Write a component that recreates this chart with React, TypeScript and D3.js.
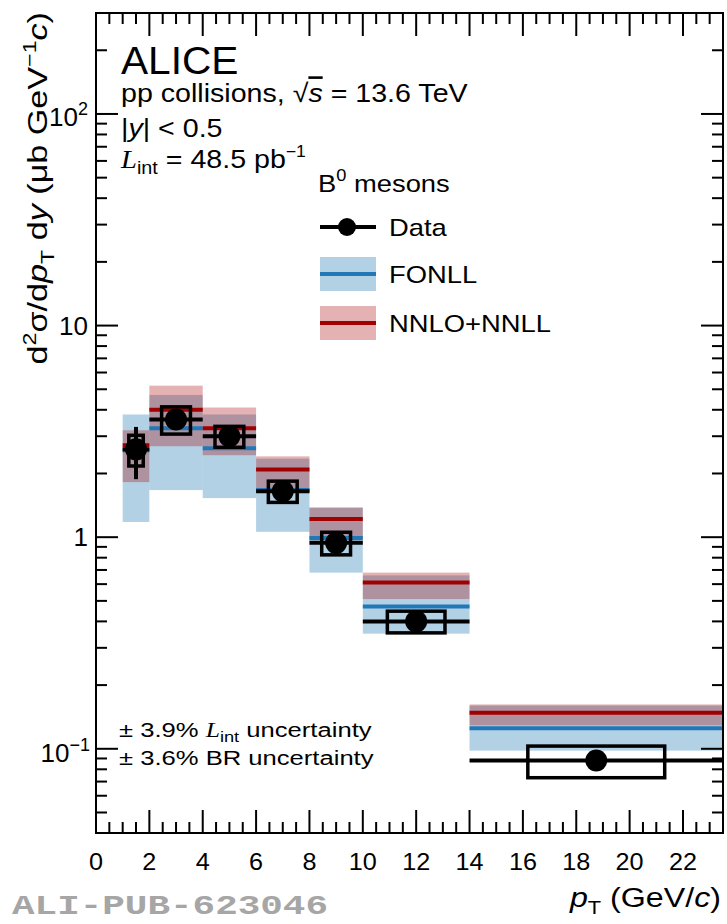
import React from "react";
import * as d3 from "d3";

// ---- data ----
const binLow = [1, 2, 4, 6, 8, 10, 14];
const binHigh = [2, 4, 6, 8, 10, 14, 23.5];
const dataX = [1.5, 3, 5, 7, 9, 12, 18.75];
const dataY = [2.6, 3.6, 3.0, 1.65, 0.94, 0.4, 0.088];
const statErr = [0.72, 0.15, 0.1, 0.05, 0.03, 0.012, 0.004];
const systErr = [0.43, 0.53, 0.34, 0.19, 0.115, 0.047, 0.015];

const fonllC = [2.57, 3.27, 2.63, 1.67, 0.99, 0.47, 0.125];
const fonllLo = [1.18, 1.67, 1.53, 1.06, 0.68, 0.35, 0.098];
const fonllHi = [3.8, 4.7, 3.8, 2.35, 1.38, 0.66, 0.16];

const nnloC = [2.72, 4.0, 3.27, 2.09, 1.22, 0.61, 0.148];
const nnloLo = [1.82, 2.69, 2.44, 1.63, 0.98, 0.51, 0.129];
const nnloHi = [3.2, 5.2, 4.1, 2.41, 1.38, 0.68, 0.162];

const xTicks = [0, 2, 4, 6, 8, 10, 12, 14, 16, 18, 20, 22];
const yDecades = [0.1, 1, 10, 100];

const W = 727;
const H = 924;
const L = 96, R = 723, TOP = 13, BOT = 833;
const SANS = "'Liberation Sans', Arial, Helvetica, sans-serif";
const SERIF = "'Liberation Serif', 'Times New Roman', serif";

const blueBand = "rgba(31,119,180,0.34)";
const blueLine = "#2277b6";
const redBand = "rgba(165,0,0,0.3)";
const redLine = "#a00000";

function T({ x, y, size, sx = 1, anchor = "start", fill = "#000", family = SANS, weight = "normal", children }: any) {
  return (
    <text
      transform={`translate(${x},${y}) scale(${sx},1)`}
      fontSize={size}
      textAnchor={anchor}
      fill={fill}
      fontFamily={family}
      fontWeight={weight}
    >
      {children}
    </text>
  );
}

export default function App() {
  const x = d3.scaleLinear().domain([0, 23.5]).range([L, R]);
  const y = d3.scaleLog().domain([0.04, 300]).range([BOT, TOP]);

  const xMinor = d3.range(0, 23.51, 0.5).filter((v) => !xTicks.includes(v));
  const yMinor: number[] = [];
  [0.01, 0.1, 1, 10, 100].forEach((d) => {
    for (let k = 2; k <= 9; k++) {
      const v = d * k;
      if (v >= 0.04 && v <= 300) yMinor.push(v);
    }
  });

  const idx = d3.range(binLow.length);

  return (
    <svg width={W} height={H} style={{ position: "absolute", left: 0, top: 0, background: "#fff" }}>
      <rect x={0} y={0} width={W} height={H} fill="#fff" />
      {/* theory bands */}
      {idx.map((i) => (
        <rect key={"fb" + i} x={x(binLow[i])} width={x(binHigh[i]) - x(binLow[i])} y={y(fonllHi[i])} height={y(fonllLo[i]) - y(fonllHi[i])} fill={blueBand} />
      ))}
      {idx.map((i) => (
        <rect key={"nb" + i} x={x(binLow[i])} width={x(binHigh[i]) - x(binLow[i])} y={y(nnloHi[i])} height={y(nnloLo[i]) - y(nnloHi[i])} fill={redBand} />
      ))}
      {idx.map((i) => (
        <line key={"fl" + i} x1={x(binLow[i])} x2={x(binHigh[i])} y1={y(fonllC[i])} y2={y(fonllC[i])} stroke={blueLine} strokeWidth={4} />
      ))}
      {idx.map((i) => (
        <line key={"nl" + i} x1={x(binLow[i])} x2={x(binHigh[i])} y1={y(nnloC[i])} y2={y(nnloC[i])} stroke={redLine} strokeWidth={4} />
      ))}
      {/* data */}
      {idx.map((i) => {
        const hw = 0.27 * (binHigh[i] - binLow[i]);
        return (
          <g key={"d" + i}>
            <line x1={x(binLow[i])} x2={x(binHigh[i])} y1={y(dataY[i])} y2={y(dataY[i])} stroke="#000" strokeWidth={4} />
            <line x1={x(dataX[i])} x2={x(dataX[i])} y1={y(dataY[i] + statErr[i])} y2={y(dataY[i] - statErr[i])} stroke="#000" strokeWidth={4} />
            <rect x={x(dataX[i] - hw)} width={x(dataX[i] + hw) - x(dataX[i] - hw)} y={y(dataY[i] + systErr[i])} height={y(dataY[i] - systErr[i]) - y(dataY[i] + systErr[i])} fill="none" stroke="#000" strokeWidth={3.5} />
            <circle cx={x(dataX[i])} cy={y(dataY[i])} r={11} fill="#000" />
          </g>
        );
      })}
      {/* frame */}
      <rect x={L} y={TOP} width={R - L} height={BOT - TOP} fill="none" stroke="#000" strokeWidth={2} />
      {/* x ticks */}
      {xTicks.map((v) => (
        <g key={"xt" + v}>
          <line x1={x(v)} x2={x(v)} y1={BOT} y2={BOT - 23} stroke="#000" strokeWidth={2} />
          <line x1={x(v)} x2={x(v)} y1={TOP} y2={TOP + 23} stroke="#000" strokeWidth={2} />
          <T x={x(v)} y={870} size={24} anchor="middle" sx={1.05}>{String(v)}</T>
        </g>
      ))}
      {xMinor.map((v) => (
        <g key={"xm" + v}>
          <line x1={x(v)} x2={x(v)} y1={BOT} y2={BOT - 11} stroke="#000" strokeWidth={2} />
          <line x1={x(v)} x2={x(v)} y1={TOP} y2={TOP + 11} stroke="#000" strokeWidth={2} />
        </g>
      ))}
      {/* y ticks */}
      {yDecades.map((v) => (
        <g key={"yt" + v}>
          <line x1={L} x2={L + 22} y1={y(v)} y2={y(v)} stroke="#000" strokeWidth={2} />
          <line x1={R} x2={R - 22} y1={y(v)} y2={y(v)} stroke="#000" strokeWidth={2} />
        </g>
      ))}
      {yMinor.map((v) => (
        <g key={"ym" + v}>
          <line x1={L} x2={L + 11} y1={y(v)} y2={y(v)} stroke="#000" strokeWidth={2} />
          <line x1={R} x2={R - 11} y1={y(v)} y2={y(v)} stroke="#000" strokeWidth={2} />
        </g>
      ))}
      {/* y tick labels */}
      <T x={88} y={y(100) + 12} size={26} anchor="end">10<tspan dy={-11} fontSize={18}>2</tspan></T>
      <T x={88} y={y(10) + 9} size={26} anchor="end">10</T>
      <T x={88} y={y(1) + 9} size={26} anchor="end">1</T>
      <T x={90} y={y(0.1) + 13} size={26} anchor="end">10<tspan dy={-11} fontSize={18}>−1</tspan></T>

      {/* y axis title */}
      <text transform="translate(47,12) rotate(-90) scale(1.22,1)" fontSize={28} textAnchor="end" fontFamily={SANS}>
        d<tspan dy={-11} fontSize={19}>2</tspan>
        <tspan dy={11}>σ/d</tspan>
        <tspan fontStyle="italic">p</tspan>
        <tspan dy={7} fontSize={19}>T</tspan>
        <tspan dy={-7}> d</tspan>
        <tspan fontStyle="italic">y</tspan>
        <tspan> (μb GeV</tspan>
        <tspan dy={-11} fontSize={19}>−1</tspan>
        <tspan dy={11} fontStyle="italic">c</tspan>
        <tspan>)</tspan>
      </text>

      {/* x axis title */}
      <T x={721} y={907} size={28} anchor="end" sx={1.15}>
        <tspan fontStyle="italic">p</tspan>
        <tspan dy={7} fontSize={19}>T</tspan>
        <tspan dy={-7}> (GeV/</tspan>
        <tspan fontStyle="italic">c</tspan>
        <tspan>)</tspan>
      </T>

      {/* top-left texts */}
      <T x={121} y={74} size={38} sx={1.07}>ALICE</T>
      <T x={121} y={102} size={26} sx={1.1}>
        pp collisions, √<tspan fontStyle="italic" textDecoration="overline">s</tspan> = 13.6 TeV
      </T>
      <T x={121} y={137} size={26} sx={1.1}>
        |<tspan fontStyle="italic">y</tspan>| &lt; 0.5
      </T>
      <T x={121} y={168} size={26} sx={1.1}>
        <tspan fontFamily={SERIF} fontStyle="italic">L</tspan>
        <tspan dy={6} fontSize={18}>int</tspan>
        <tspan dy={-6}> = 48.5 pb</tspan>
        <tspan dy={-11} fontSize={16}>−1</tspan>
      </T>

      {/* legend */}
      <T x={318} y={192} size={24} sx={1.14}>
        B<tspan dy={-11} fontSize={16}>0</tspan><tspan dy={11}> mesons</tspan>
      </T>
      <line x1={320} x2={376} y1={227} y2={227} stroke="#000" strokeWidth={4} />
      <circle cx={347} cy={227} r={9} fill="#000" />
      <T x={389} y={236} size={24} sx={1.14}>Data</T>

      <rect x={320} y={257} width={56} height={34} fill={blueBand} />
      <line x1={320} x2={376} y1={274} y2={274} stroke={blueLine} strokeWidth={4} />
      <T x={389} y={283} size={24} sx={1.14}>FONLL</T>

      <rect x={320} y={306} width={56} height={34} fill={redBand} />
      <line x1={320} x2={376} y1={323} y2={323} stroke={redLine} strokeWidth={4} />
      <T x={389} y={332} size={24} sx={1.14}>NNLO+NNLL</T>

      {/* uncertainty notes */}
      <T x={119} y={737} size={21} sx={1.22}>
        ± 3.9%  <tspan fontFamily={SERIF} fontStyle="italic">L</tspan>
        <tspan dy={5} fontSize={15}>int</tspan>
        <tspan dy={-5}> uncertainty</tspan>
      </T>
      <T x={119} y={765} size={21} sx={1.22}>± 3.6% BR uncertainty</T>

      {/* ALI-PUB */}
      <text x={12} y={914} fontSize={27} fontWeight="bold" fill="#a6a6a6" fontFamily="'Liberation Mono', 'Courier New', monospace" textLength={316} lengthAdjust="spacingAndGlyphs">
        ALI-PUB-623046
      </text>
    </svg>
  );
}
